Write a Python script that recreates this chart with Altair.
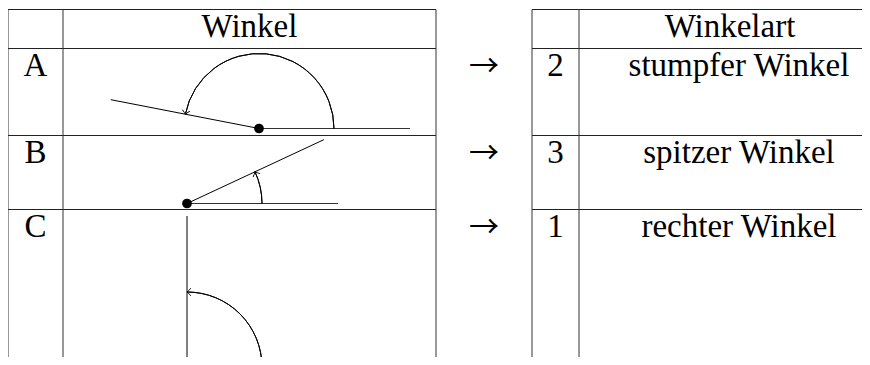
import math
import altair as alt
import pandas as pd

# ---- data ----
headers = ["Winkel", "Winkelart"]
row_labels = ["A", "B", "C"]
angles_deg = [169, 25, 90]
answer_numbers = ["2", "3", "1"]
answer_types = ["stumpfer Winkel", "spitzer Winkel", "rechter Winkel"]

# ---- layout (page pixel coordinates) ----
W, H = 854, 349
OFF = 8
table_top = 9.5
row_tops = [48.5, 135.5, 209.5]
page_bottom = 380
left_cols = [8, 63, 436]
right_cols = [532, 579]
right_end = 900
vertex_x = [259, 187, 187]
vertex_y = [128.5, 203.5, 367]
ray_len = 151
arc_r = 75
FONT = "Liberation Serif"
FS = 33

# table rules
segs = []
for y in [table_top] + row_tops:
    segs.append((left_cols[0], y, left_cols[-1], y, "#222"))
    segs.append((right_cols[0], y, right_end, y, "#222"))
for x in left_cols + right_cols:
    segs.append((x, table_top, x, page_bottom, "#333"))
# angle rays
for i, a in enumerate(angles_deg):
    vx, vy = vertex_x[i], vertex_y[i]
    segs.append((vx, vy, vx + ray_len, vy, "#333"))
    r = math.radians(a)
    segs.append((vx, vy, vx + ray_len * math.cos(r), vy - ray_len * math.sin(r), "black"))
seg_df = pd.DataFrame(segs, columns=["x", "y", "x2", "y2", "c"])

xs = alt.Scale(domain=[OFF, OFF + W], nice=False, zero=False)
ys = alt.Scale(domain=[OFF, OFF + H], nice=False, zero=False, reverse=True)

rules = alt.Chart(seg_df).mark_rule(strokeWidth=1).encode(
    x=alt.X("x:Q", scale=xs, axis=None),
    y=alt.Y("y:Q", scale=ys, axis=None),
    x2="x2:Q",
    y2="y2:Q",
    color=alt.Color("c:N", scale=None),
)

# arcs
arc_df = pd.DataFrame({
    "x": vertex_x,
    "y": vertex_y,
    "t0": [math.radians(450 - a) for a in angles_deg],
    "t1": [math.radians(450) for _ in angles_deg],
})
arcs = alt.Chart(arc_df).mark_arc(
    filled=False, color="black", strokeWidth=1, innerRadius=arc_r, outerRadius=arc_r
).encode(
    x=alt.X("x:Q", scale=xs, axis=None),
    y=alt.Y("y:Q", scale=ys, axis=None),
    theta=alt.Theta("t0:Q", scale=None, stack=None),
    theta2="t1:Q",
)

# arrow heads at arc ends
head_df = pd.DataFrame({
    "x": [vertex_x[i] + arc_r * math.cos(math.radians(a)) for i, a in enumerate(angles_deg)],
    "y": [vertex_y[i] - arc_r * math.sin(math.radians(a)) for i, a in enumerate(angles_deg)],
    "ang": [(360 - (a + 90)) % 360 for a in angles_deg],
})
heads = alt.Chart(head_df).mark_point(
    shape="M -1 -1 Q -0.3 -0.2 0 0 Q -0.3 0.2 -1 1",
    filled=False, color="black", strokeWidth=0.9, size=60, opacity=1,
).encode(
    x=alt.X("x:Q", scale=xs, axis=None),
    y=alt.Y("y:Q", scale=ys, axis=None),
    angle=alt.Angle("ang:Q", scale=None),
)

# vertex dots
dot_df = pd.DataFrame({"x": vertex_x, "y": vertex_y})
dots = alt.Chart(dot_df).mark_circle(size=95, color="black", opacity=1).encode(
    x=alt.X("x:Q", scale=xs, axis=None),
    y=alt.Y("y:Q", scale=ys, axis=None),
)

# texts
texts = []
arrows = []
texts.append(((left_cols[1] + left_cols[2]) / 2, 37, headers[0]))
texts.append((730, 37, headers[1]))
for i in range(3):
    base = row_tops[i] + 27.5
    texts.append(((left_cols[0] + left_cols[1]) / 2, base, row_labels[i]))
    arrows.append(((left_cols[2] + right_cols[0]) / 2, base - 9, "\u2192"))
    texts.append(((right_cols[0] + right_cols[1]) / 2, base, answer_numbers[i]))
    texts.append((739, base, answer_types[i]))
text_df = pd.DataFrame(texts, columns=["x", "y", "t"])
arrow_df = pd.DataFrame(arrows, columns=["x", "y", "t"])
labels = alt.Chart(text_df).mark_text(
    font=FONT, fontSize=FS, color="black", align="center", baseline="alphabetic"
).encode(
    x=alt.X("x:Q", scale=xs, axis=None),
    y=alt.Y("y:Q", scale=ys, axis=None),
    text="t:N",
)
arrow_marks = alt.Chart(arrow_df).mark_text(
    font="Noto Sans CJK SC", fontSize=30, color="black", align="center", baseline="middle"
).encode(
    x=alt.X("x:Q", scale=xs, axis=None),
    y=alt.Y("y:Q", scale=ys, axis=None),
    text="t:N",
)

chart = alt.layer(rules, arcs, heads, dots, labels, arrow_marks).properties(
    width=W, height=H, padding=0, autosize=alt.AutoSizeParams(type="none")
).configure_view(strokeWidth=0)

chart.save("out.html", embed_options={"renderer": "svg", "actions": False})
